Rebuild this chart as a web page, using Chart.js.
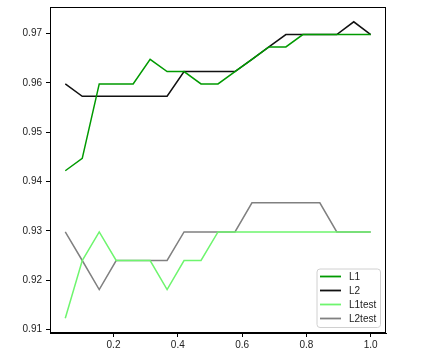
<!DOCTYPE html>
<html>
<head>
<meta charset="utf-8">
<script src="https://cdn.jsdelivr.net/npm/chart.js@4/dist/chart.umd.min.js"></script>
<style>
html,body{margin:0;padding:0;background:#fff;}
#wrap{width:430px;height:359px;position:relative;}
</style>
</head>
<body>
<div id="wrap"><canvas id="c" width="430" height="359"></canvas></div>
<script>
const xValues = [0.05, 0.1028, 0.1556, 0.2083, 0.2611, 0.3139, 0.3667, 0.4194, 0.4722, 0.525, 0.5778, 0.6306, 0.6833, 0.7361, 0.7889, 0.8417, 0.8944, 0.9472, 1.0];
const l1 = [0.9422, 0.9447, 0.9598, 0.9598, 0.9598, 0.9648, 0.9623, 0.9623, 0.9598, 0.9598, 0.9623, 0.9648, 0.9673, 0.9673, 0.9698, 0.9698, 0.9698, 0.9698, 0.9698];
const l2 = [0.9598, 0.9573, 0.9573, 0.9573, 0.9573, 0.9573, 0.9573, 0.9623, 0.9623, 0.9623, 0.9623, 0.9648, 0.9673, 0.9698, 0.9698, 0.9698, 0.9698, 0.9724, 0.9698];
const l1test = [0.9123, 0.9240, 0.9298, 0.9240, 0.9240, 0.9240, 0.9181, 0.9240, 0.9240, 0.9298, 0.9298, 0.9298, 0.9298, 0.9298, 0.9298, 0.9298, 0.9298, 0.9298, 0.9298];
const l2test = [0.9298, 0.9240, 0.9181, 0.9240, 0.9240, 0.9240, 0.9240, 0.9298, 0.9298, 0.9298, 0.9298, 0.9357, 0.9357, 0.9357, 0.9357, 0.9357, 0.9298, 0.9298, 0.9298];
const seriesLabels = ['L1', 'L2', 'L1test', 'L2test'];
const seriesColors = ['#009a00', '#111111', '#6ef56e', '#808080'];
const xTicks = [0.2, 0.4, 0.6, 0.8, 1.0];
const yTicks = [0.91, 0.92, 0.93, 0.94, 0.95, 0.96, 0.97];

const allSeries = [l1, l2, l1test, l2test];
const datasets = allSeries.map((s, k) => ({
  label: seriesLabels[k],
  data: s.map((v, i) => ({x: xValues[i], y: v})),
  borderColor: seriesColors[k],
  backgroundColor: seriesColors[k],
  borderWidth: 1.5,
  pointRadius: 0,
  tension: 0,
  fill: false
}));

const FONT = {family: '"Liberation Sans", Arial, sans-serif', size: 10};

const framePlugin = {
  id: 'frame',
  afterDatasetsDraw(chart) {
    const {ctx, chartArea: a} = chart;
    ctx.save();
    ctx.strokeStyle = '#000';
    ctx.lineWidth = 1;
    ctx.strokeRect(Math.round(a.left) + 0.5, Math.round(a.top) + 0.5, Math.round(a.right - a.left) - 1, Math.round(a.bottom - a.top) - 1);
    ctx.restore();
  }
};

const legendPlugin = {
  id: 'boxLegend',
  afterDraw(chart) {
    const ctx = chart.ctx;
    const a = chart.chartArea;
    const bx = a.right - 69, by = a.bottom - 64, bw = 63.5, bh = 58.5, r = 3;
    ctx.save();
    ctx.beginPath();
    ctx.moveTo(bx + r, by);
    ctx.lineTo(bx + bw - r, by);
    ctx.arcTo(bx + bw, by, bx + bw, by + r, r);
    ctx.lineTo(bx + bw, by + bh - r);
    ctx.arcTo(bx + bw, by + bh, bx + bw - r, by + bh, r);
    ctx.lineTo(bx + r, by + bh);
    ctx.arcTo(bx, by + bh, bx, by + bh - r, r);
    ctx.lineTo(bx, by + r);
    ctx.arcTo(bx, by, bx + r, by, r);
    ctx.closePath();
    ctx.fillStyle = 'rgba(255,255,255,0.8)';
    ctx.fill();
    ctx.strokeStyle = '#d0d0d0';
    ctx.lineWidth = 1;
    ctx.stroke();
    ctx.font = '10px "Liberation Sans", Arial, sans-serif';
    ctx.textBaseline = 'middle';
    ctx.fillStyle = '#222';
    chart.data.datasets.forEach((ds, i) => {
      const y = by + 7.5 + i * 14;
      ctx.beginPath();
      ctx.moveTo(bx + 3, y);
      ctx.lineTo(bx + 24, y);
      ctx.strokeStyle = ds.borderColor;
      ctx.lineWidth = 1.8;
      ctx.stroke();
      ctx.fillText(ds.label, bx + 32, y + 0.5);
    });
    ctx.restore();
  }
};

new Chart(document.getElementById('c'), {
  type: 'line',
  data: {datasets},
  plugins: [framePlugin, legendPlugin],
  options: {
    responsive: false,
    animation: false,
    layout: {padding: {left: 0, right: 44, top: 7, bottom: 0}},
    plugins: {legend: {display: false}, tooltip: {enabled: false}},
    scales: {
      x: {
        type: 'linear',
        min: 0.0025,
        max: 1.0475,
        afterBuildTicks(scale) { scale.ticks = xTicks.map(v => ({value: v})); },
        afterFit(scale) { scale.height = 26; scale.paddingLeft = 0; scale.paddingRight = 0; },
        ticks: {font: FONT, color: '#222', padding: 2, maxRotation: 0, autoSkip: false, callback: v => Number(v).toFixed(1)},
        grid: {display: true, drawOnChartArea: false, drawTicks: true, tickLength: 4, color: '#000'},
        border: {display: true, color: '#000', width: 1}
      },
      y: {
        min: 0.9093,
        max: 0.9754,
        afterBuildTicks(scale) { scale.ticks = yTicks.map(v => ({value: v})); },
        afterFit(scale) { scale.width = 50; scale.paddingTop = 0; scale.paddingBottom = 0; },
        ticks: {font: FONT, color: '#222', padding: 4, autoSkip: false, callback: v => Number(v).toFixed(2)},
        grid: {display: true, drawOnChartArea: false, drawTicks: true, tickLength: 4, color: '#000'},
        border: {display: true, color: '#000', width: 1}
      }
    }
  }
});
</script>
</body>
</html>
